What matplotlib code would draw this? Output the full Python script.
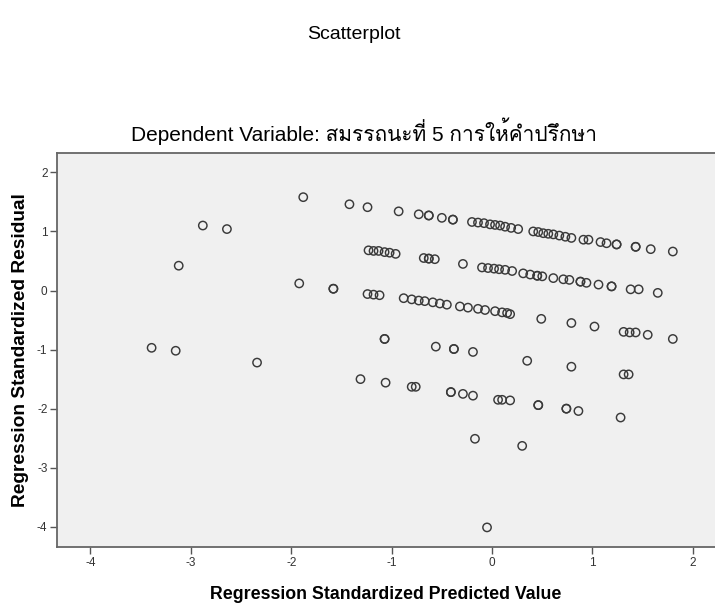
import matplotlib
matplotlib.use('Agg')
import matplotlib.pyplot as plt
from matplotlib import font_manager
from matplotlib.ft2font import FT2Font

# values
pred = [
    # isolated points on the left
    -3.39, -3.15, -3.12, -2.88, -2.64, -2.34, -1.92, -1.88, -1.58, -1.58,
    -1.42, -1.31, -1.24, -1.06, -1.07, -1.07,
    # upper band
    -0.93, -0.73, -0.63, -0.63, -0.50, -0.39, -0.39, -0.20, -0.14, -0.08,
    -0.02, 0.03, 0.08, 0.13, 0.19, 0.26, 0.41, 0.46, 0.51, 0.56,
    0.61, 0.67, 0.73, 0.79, 0.91, 0.96, 1.08, 1.14, 1.24, 1.24,
    1.43, 1.43, 1.58, 1.80,
    # second band
    -1.23, -1.18, -1.13, -1.07, -1.02, -0.96, -0.68, -0.63, -0.63, -0.57,
    -0.29, -0.10, -0.04, 0.02, 0.07, 0.13, 0.20, 0.31, 0.38, 0.45,
    0.45, 0.50, 0.61, 0.71, 0.77, 0.88, 0.88, 0.94, 1.06, 1.19,
    1.19, 1.38, 1.46, 1.65,
    # third band
    -1.24, -1.18, -1.12, -0.88, -0.80, -0.73, -0.67, -0.59, -0.52, -0.45,
    -0.32, -0.24, -0.14, -0.07, 0.03, 0.10, 0.15, 0.18, 0.49, 0.79,
    1.02, 1.31, 1.37, 1.43, 1.55, 1.80,
    # around -1
    -0.56, -0.38, -0.38, -0.19, 0.35, 0.79, 1.31, 1.36,
    # around -1.8
    -0.80, -0.76, -0.41, -0.41, -0.29, -0.19, 0.06, 0.10, 0.18, 0.46,
    0.46, 0.74, 0.74, 0.86, 1.28,
    # low outliers
    -0.17, 0.30, -0.05,
]
resid = [
    -0.97, -1.02, 0.42, 1.10, 1.04, -1.22, 0.12, 1.58, 0.03, 0.03,
    1.46, -1.50, 1.41, -1.56, -0.82, -0.82,
    1.34, 1.29, 1.27, 1.27, 1.23, 1.20, 1.20, 1.16, 1.15, 1.14,
    1.12, 1.11, 1.10, 1.08, 1.06, 1.04, 1.00, 0.99, 0.97, 0.96,
    0.95, 0.93, 0.91, 0.89, 0.86, 0.86, 0.82, 0.80, 0.78, 0.78,
    0.74, 0.74, 0.70, 0.66,
    0.68, 0.67, 0.67, 0.65, 0.64, 0.62, 0.55, 0.54, 0.54, 0.53,
    0.45, 0.39, 0.38, 0.37, 0.36, 0.35, 0.33, 0.29, 0.27, 0.25,
    0.25, 0.24, 0.21, 0.19, 0.18, 0.15, 0.15, 0.13, 0.10, 0.07,
    0.07, 0.02, 0.02, -0.04,
    -0.06, -0.07, -0.08, -0.13, -0.15, -0.17, -0.18, -0.20, -0.22, -0.24,
    -0.27, -0.29, -0.31, -0.33, -0.35, -0.37, -0.38, -0.40, -0.48, -0.55,
    -0.61, -0.70, -0.71, -0.71, -0.75, -0.82,
    -0.95, -0.99, -0.99, -1.04, -1.19, -1.29, -1.42, -1.42,
    -1.63, -1.63, -1.72, -1.72, -1.75, -1.78, -1.85, -1.85, -1.86, -1.94,
    -1.94, -2.00, -2.00, -2.04, -2.15,
    -2.51, -2.63, -4.01,
]

xticks = [-4, -3, -2, -1, 0, 1, 2]
yticks = [2, 1, 0, -1, -2, -3, -4]

title = 'Scatterplot'
subtitle = 'Dependent Variable: สมรรถนะที่ 5 การให้คำปรึกษา'
xlabel = 'Regression Standardized Predicted Value'
ylabel = 'Regression Standardized Residual'


def thai_family():
    # first installed font that has Thai glyphs
    for f in font_manager.fontManager.ttflist:
        try:
            if FT2Font(f.fname).get_char_index(ord('ส')):
                return f.name
        except Exception:
            pass
    return 'DejaVu Sans'


thai = thai_family()
plt.rcParams['font.family'] = ['Liberation Sans', thai, 'DejaVu Sans']

fig = plt.figure(figsize=(7.15, 6.09), dpi=100)
ax = fig.add_axes([0.080, 0.101, 0.920, 0.648])
ax.set_facecolor('#f0f0f0')

ax.scatter(pred, resid, s=36, facecolors='none', edgecolors='#3a3a3a',
           linewidths=1.05, zorder=3)

ax.set_xlim(-4.33, 2.22)
ax.set_ylim(-4.35, 2.33)
ax.set_xticks(xticks)
ax.set_yticks(yticks)
ax.set_xticklabels([str(t) for t in xticks])
ax.set_yticklabels([str(t) for t in yticks])
ax.tick_params(direction='out', length=5, width=1, color='#555555',
               labelsize=8.5, labelcolor='#333333', pad=2)
for lab in ax.get_xticklabels() + ax.get_yticklabels():
    lab.set_family(['Liberation Sans Narrow', 'Liberation Sans'])

for side in ['left', 'bottom', 'top']:
    ax.spines[side].set_color('#666666')
    ax.spines[side].set_linewidth(1.3)
ax.spines['right'].set_visible(False)

ax.set_xlabel(xlabel, fontsize=12.8, fontweight='bold', labelpad=12)
ax.set_ylabel(ylabel, fontsize=13.8, fontweight='bold', labelpad=6)

fig.text(0.495, 0.943, title, ha='center', va='center', fontsize=14)
fig.text(0.509, 0.785, subtitle, ha='center', va='center', fontsize=15)

fig.savefig('out.png', dpi=100)
